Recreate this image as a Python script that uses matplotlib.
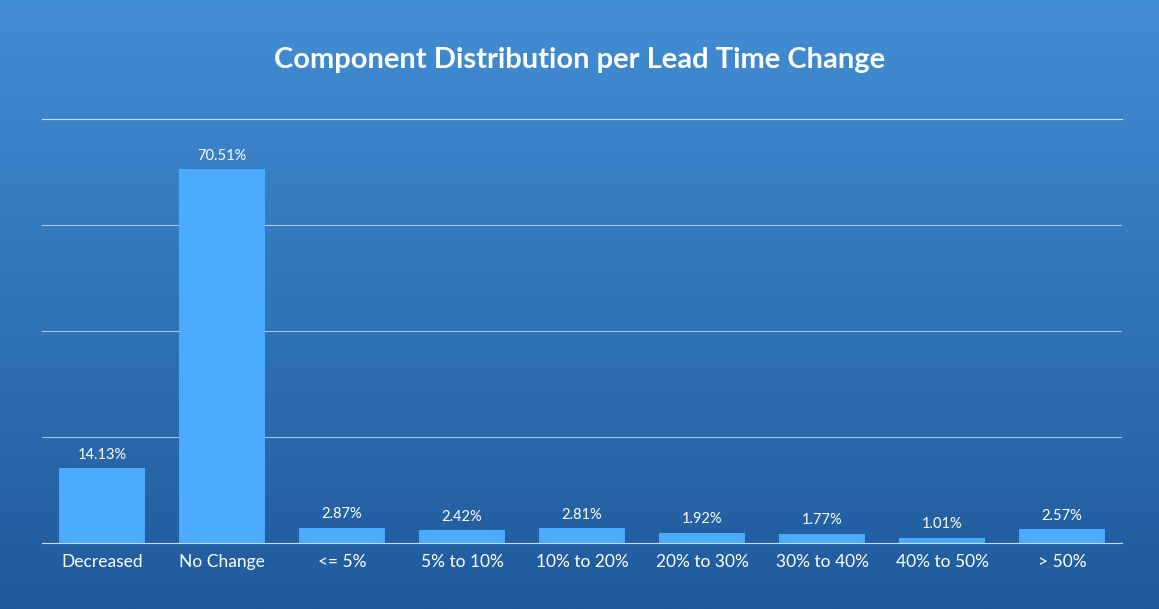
import numpy as np
import matplotlib.pyplot as plt

categories = ["Decreased", "No Change", "<= 5%", "5% to 10%", "10% to 20%",
              "20% to 30%", "30% to 40%", "40% to 50%", "> 50%"]
values = [14.13, 70.51, 2.87, 2.42, 2.81, 1.92, 1.77, 1.01, 2.57]
labels = ["14.13%", "70.51%", "2.87%", "2.42%", "2.81%", "1.92%", "1.77%", "1.01%", "2.57%"]

W, H = 1159, 609
fig = plt.figure(figsize=(W / 100, H / 100), dpi=100)

# gradient background
bg = fig.add_axes([0, 0, 1, 1])
top = np.array([0x42, 0x8e, 0xd4]) / 255
bot = np.array([0x1f, 0x5a, 0x9c]) / 255
t = np.linspace(0, 1, 256)[:, None]
grad = top * (1 - t) + bot * t
bg.imshow(grad[:, None, :].repeat(2, axis=1), aspect="auto", extent=[0, 1, 0, 1])
bg.axis("off")

ax = fig.add_axes([42 / W, 1 - 543 / H, (1122 - 42) / W, (543 - 119) / H])
ax.patch.set_alpha(0)
x = np.arange(len(categories))
ax.bar(x, values, width=0.71, color="#4aabff", zorder=3)
for xi, v, lab in zip(x, values, labels):
    ax.text(xi, v + 1.2, lab, ha="center", va="bottom", color="white",
            fontsize=10.5, fontfamily="Lato")
ax.set_xlim(-0.5, len(categories) - 0.5)
ax.set_ylim(0, 80)
ax.set_yticks([20, 40, 60, 80])
ax.yaxis.grid(True, color="#c8dcf0", linewidth=0.8, alpha=0.8)
ax.tick_params(axis="y", left=False, labelleft=False)
ax.tick_params(axis="x", length=0, pad=8, colors="white")
ax.set_xticks(x)
ax.set_xticklabels(categories, fontsize=12.5, fontfamily="Lato", color="white")
for s in ["top", "right", "left"]:
    ax.spines[s].set_visible(False)
ax.spines["bottom"].set_color("#c8dcf0")
ax.spines["bottom"].set_linewidth(0.8)
ax.spines["top"].set_visible(True)
ax.spines["top"].set_color("#c8dcf0")
ax.spines["top"].set_linewidth(0.8)

fig.text(0.5, 1 - 60 / H, "Component Distribution per Lead Time Change", ha="center",
         va="center", color="white", fontsize=21, fontweight="bold", fontfamily="Lato")

fig.savefig("out.png", dpi=100)
